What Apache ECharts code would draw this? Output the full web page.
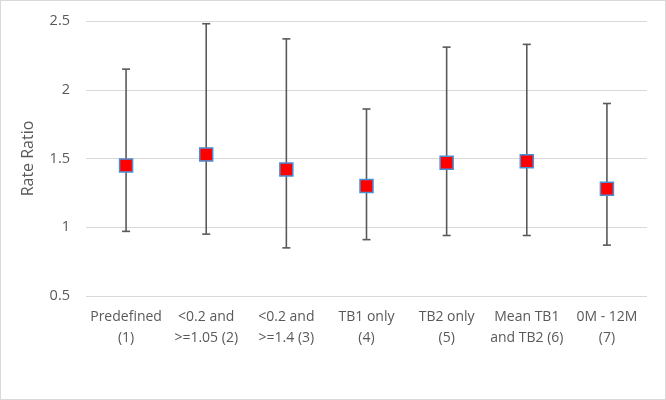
<!DOCTYPE html>
<html>
<head>
<meta charset="utf-8">
<script src="https://cdn.jsdelivr.net/npm/echarts@6/dist/echarts.min.js"></script>
<style>
html,body{margin:0;padding:0;background:#fff;}
#wrap{position:absolute;left:0;top:0;width:664px;height:398px;border:1px solid #d9d9d9;}
#chart{width:666px;height:400px;position:absolute;left:0;top:0;}
</style>
</head>
<body>
<div id="wrap"></div>
<div id="chart"></div>
<script>
var categories = ['Predefined\n(1)', '<0.2 and\n>=1.05 (2)', '<0.2 and\n>=1.4 (3)', 'TB1 only\n(4)', 'TB2 only\n(5)', 'Mean TB1\nand TB2 (6)', '0M - 12M\n(7)'];
var rateRatio = [1.45, 1.53, 1.42, 1.30, 1.47, 1.48, 1.28];
var lowerCI = [0.97, 0.95, 0.85, 0.91, 0.94, 0.94, 0.87];
var upperCI = [2.15, 2.48, 2.37, 1.86, 2.31, 2.33, 1.90];
var yTicks = [0.5, 1, 1.5, 2, 2.5];

var font = "'Open Sans', 'Liberation Sans', sans-serif";
var chart = echarts.init(document.getElementById('chart'), null, {renderer: 'canvas'});
var errData = categories.map(function (c, i) { return [i, lowerCI[i], upperCI[i]]; });
chart.setOption({
  animation: false,
  backgroundColor: 'transparent',
  grid: {left: 86, right: 19, top: 21, bottom: 104},
  xAxis: {
    type: 'category',
    data: categories,
    boundaryGap: true,
    axisLine: {show: false},
    axisTick: {show: false},
    axisLabel: {color: '#595959', fontFamily: font, fontSize: 14, lineHeight: 21, margin: 11, interval: 0}
  },
  yAxis: {
    type: 'value',
    min: yTicks[0],
    max: yTicks[yTicks.length - 1],
    interval: 0.5,
    name: 'Rate Ratio',
    nameLocation: 'middle',
    nameGap: 50,
    nameTextStyle: {color: '#595959', fontFamily: font, fontSize: 16},
    axisLine: {show: false},
    axisTick: {show: false},
    axisLabel: {color: '#595959', fontFamily: font, fontSize: 14.5, margin: 16},
    splitLine: {lineStyle: {color: '#d9d9d9', width: 1}}
  },
  series: [
    {
      type: 'custom',
      data: errData,
      z: 2,
      renderItem: function (params, api) {
        var x = api.value(0);
        var lo = api.coord([x, api.value(1)]);
        var hi = api.coord([x, api.value(2)]);
        var hw = 4;
        var st = {stroke: '#595959', lineWidth: 1.6};
        return {
          type: 'group',
          children: [
            {type: 'line', shape: {x1: lo[0], y1: lo[1], x2: hi[0], y2: hi[1]}, style: st},
            {type: 'line', shape: {x1: hi[0] - hw, y1: hi[1], x2: hi[0] + hw, y2: hi[1]}, style: st},
            {type: 'line', shape: {x1: lo[0] - hw, y1: lo[1], x2: lo[0] + hw, y2: lo[1]}, style: st}
          ]
        };
      }
    },
    {
      type: 'scatter',
      data: rateRatio,
      z: 3,
      symbol: 'rect',
      symbolSize: 13,
      itemStyle: {color: '#ff0000', borderColor: '#4a8fd6', borderWidth: 1.5, opacity: 1}
    }
  ]
});
</script>
</body>
</html>
